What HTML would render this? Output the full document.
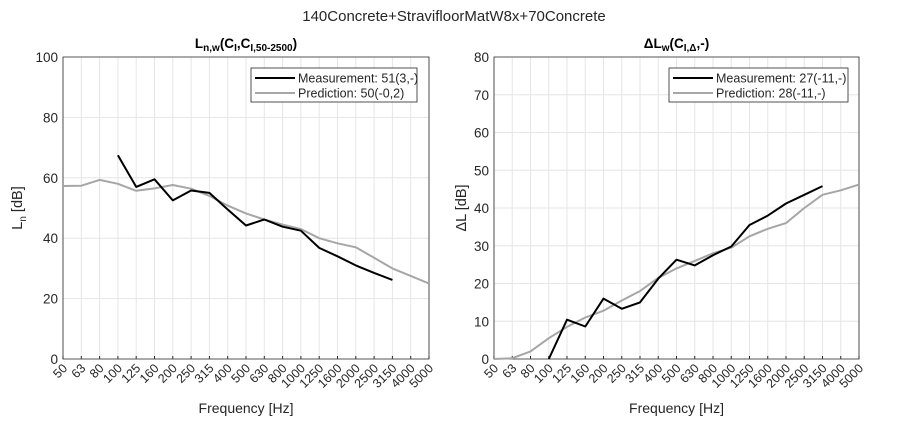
<!DOCTYPE html>
<html><head><meta charset="utf-8"><style>
body{margin:0;background:#fff;}
svg{font-family:"Liberation Sans",sans-serif;}
</style></head><body>
<svg id="c" width="909" height="424" viewBox="0 0 909 424" xmlns="http://www.w3.org/2000/svg">
<text x="454" y="21" text-anchor="middle" font-size="15" fill="#262626">140Concrete+StravifloorMatW8x+70Concrete</text>
</svg>
<script>
const categories=["50","63","80","100","125","160","200","250","315","400","500","630","800","1000","1250","1600","2000","2500","3150","4000","5000"];
const lnMeas=[null,null,null,67.5,57,59.5,52.5,55.8,55,49.5,44.2,46.2,43.8,42.5,36.8,34,31,28.5,26.2,null,null];
const lnPred=[57.3,57.4,59.3,58,55.7,56.5,57.6,56.4,54,50.8,48.2,46.2,44.5,43,40,38.3,37,33.5,30,27.5,25];
const dlMeas=[null,null,null,0,10.4,8.6,16,13.3,15,21.3,26.3,24.8,27.5,29.8,35.5,38,41.2,43.5,45.8,null,null];
const dlPred=[0,0.2,2,5.5,8.5,11,12.8,15.5,18,21.5,24,26,28,29.5,32.5,34.5,36,40,43.5,44.7,46.2];
const lnTicks=[0,20,40,60,80,100];
const dlTicks=[0,10,20,30,40,50,60,70,80];
const NS="http://www.w3.org/2000/svg";
const svg=document.getElementById('c');
function mk(tag,attrs,parent){const e=document.createElementNS(NS,tag);for(const k in attrs)e.setAttribute(k,attrs[k]);(parent||svg).appendChild(e);return e;}
function panel(opt){
  const g=mk('g',{});
  
  
  const x0=opt.x0,x1=opt.x1,y0=57,y1=359;
  const xs=i=>x0+(x1-x0)*i/(categories.length-1);
  const ymax=opt.ticks[opt.ticks.length-1];
  const ys=v=>y1-(y1-y0)*v/ymax;
  mk('rect',{x:x0,y:y0,width:x1-x0,height:y1-y0,fill:'#fff'},g);
  categories.forEach((c,i)=>{
    const l=mk('line',{x1:xs(i),x2:xs(i),y1:y0,y2:y1,stroke:'#e6e6e6','stroke-width':1},g);
    
    
    const t=mk('text',{x:0,y:0,'font-size':12.5,fill:'#262626','text-anchor':'end',transform:`translate(${xs(i)+5},${y1+10}) rotate(-45)`},g);
    t.textContent=c;
    
    
    mk('line',{x1:xs(i),x2:xs(i),y1:y1,y2:y1-3,stroke:'#262626'},g);
  });
  opt.ticks.forEach(v=>{
    const l=mk('line',{x1:x0,x2:x1,y1:ys(v),y2:ys(v),stroke:'#e6e6e6'},g);
    
    
    const t=mk('text',{x:x0-5,y:ys(v)+5,'font-size':13.5,fill:'#262626','text-anchor':'end'},g);
    t.textContent=v;
    
    
  });
  mk('path',{d:`M${x0},${y0}H${x1}V${y1}H${x0}Z`,fill:'none',stroke:'#262626','stroke-width':0.8},g);
  function line(arr,col,name){
    let d='';arr.forEach((v,i)=>{if(v==null)return;d+=(d?'L':'M')+xs(i).toFixed(1)+','+ys(v).toFixed(1);});
    const p=mk('path',{d:d,fill:'none',stroke:col,'stroke-width':2,'stroke-linejoin':'round'},g);
    
    
  }
  line(opt.pred,'#a6a6a6','prediction-line');
  line(opt.meas,'#000','measurement-line');
  const lg=mk('g',{},g);
  
  
  mk('rect',{x:opt.lx0,y:68,width:opt.lx1-opt.lx0,height:34,fill:'#fff',stroke:'#262626','stroke-width':0.8},lg);
  [['#000',opt.l1,78],['#a6a6a6',opt.l2,93]].forEach(([c,t,y])=>{
    mk('line',{x1:opt.lx0+4,x2:opt.lx0+44,y1:y,y2:y,stroke:c,'stroke-width':2},lg);
    const tx=mk('text',{x:opt.lx0+47,y:y+4.5,'font-size':12.5,fill:'#262626'},lg);
    tx.textContent=t;
    
    
  });
  const tt=mk('text',{x:(x0+x1)/2,y:48,'font-size':13.5,'font-weight':'bold','text-anchor':'middle',fill:'#000'},g);
  tt.innerHTML=opt.title;
  
  
  const xl=mk('text',{x:(x0+x1)/2,y:413,'font-size':14,'text-anchor':'middle',fill:'#262626'},g);
  xl.textContent='Frequency [Hz]';
  
  
  const yl=mk('text',{x:0,y:0,'font-size':14.5,'text-anchor':'middle',fill:'#262626',transform:`translate(${opt.ylx},208) rotate(-90)`},g);
  yl.innerHTML=opt.ylab;
  
  
}
panel({name:'ln-panel',x0:63,x1:429,ticks:lnTicks,meas:lnMeas,pred:lnPred,lx0:251,lx1:417,
 l1:'Measurement: 51(3,-)',l2:'Prediction: 50(-0,2)',ylx:22,
 title:'L<tspan font-size="10" dy="3">n,w</tspan><tspan dy="-3">(C</tspan><tspan font-size="10" dy="3">I</tspan><tspan dy="-3">,C</tspan><tspan font-size="10" dy="3">I,50-2500</tspan><tspan dy="-3">)</tspan>',
 ylab:'L<tspan font-size="10" dy="4">n</tspan><tspan dy="-4"> [dB]</tspan>'});
panel({name:'delta-l-panel',x0:494,x1:859,ticks:dlTicks,meas:dlMeas,pred:dlPred,lx0:669,lx1:848,
 l1:'Measurement: 27(-11,-)',l2:'Prediction: 28(-11,-)',ylx:466,
 title:'ΔL<tspan font-size="10" dy="3">w</tspan><tspan dy="-3">(C</tspan><tspan font-size="10" dy="3">I,Δ</tspan><tspan dy="-3">,-)</tspan>',
 ylab:'ΔL [dB]'});
</script>
</body></html>
